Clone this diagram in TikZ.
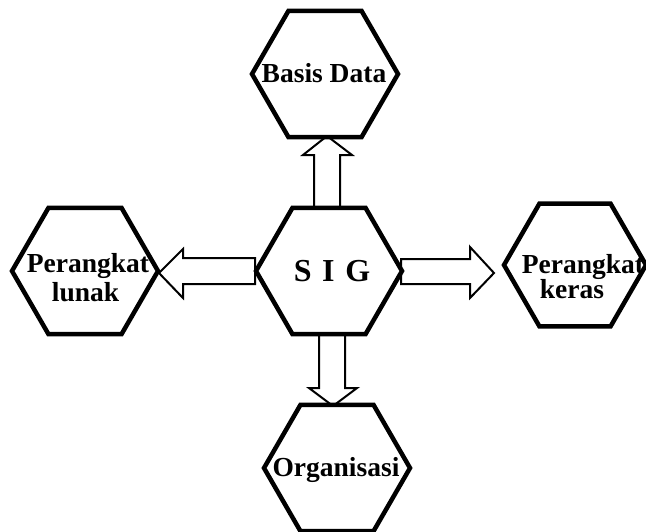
\documentclass[tikz,border=0pt]{standalone}
\usepackage{fontspec}
\setmainfont{Liberation Serif}
\usetikzlibrary{shapes.geometric,backgrounds,calc}
\tikzset{
  hexa/.style={draw=black, fill=white, regular polygon, regular polygon sides=6,
    minimum size=146pt, inner sep=0pt, outer sep=0pt, line width=4.5pt, line join=miter},
  lbl/.style={font=\bfseries\fontsize{27.5}{26}\selectfont, inner sep=0pt, anchor=base, align=center},
  biglbl/.style={font=\bfseries\fontsize{32}{32}\selectfont, inner sep=0pt, anchor=base},
  blockarrow/.style={draw=black, fill=white, line width=2pt, line join=miter}
}
\begin{document}
\begin{tikzpicture}[x=1pt,y=-1pt]
\useasboundingbox (0,0) rectangle (646,531);
% hexagons
\node[hexa] (basis) at (325,74) {};
\node[hexa] (sig) at (329,271) {};
\node[hexa] (lunak) at (85,271) {};
\node[hexa, minimum size=142pt] (keras) at (575,265) {};
\node[hexa] (org) at (337,468) {};
% labels
\node[lbl] (tbasis) at (324,82) {Basis Data};
\node[biglbl] (tsig) at (332,281) {S\,\,I\,\,G};
\node[lbl] (tlunak1) at (88,272) {Perangkat};
\node[lbl] (tlunak2) at (85.5,301) {lunak};
\node[lbl] (tkeras1) at (583,273) {Perangkat};
\node[lbl] (tkeras2) at (572,298) {keras};
\node[lbl] (torg) at (336,476) {Organisasi};
% block arrows behind the hexagons
\begin{pgfonlayer}{background}
\draw[blockarrow] ($(sig.center)+(-15,-56)$) -- ++(0,-60) -- ++(-11,0)
   -- ($(basis.center)+(2,62)$) -- ($(sig.center)+(23,-116)$) -- ++(-12,0) -- ($(sig.center)+(11,-56)$) -- cycle;
\draw[blockarrow] ($(sig.center)+(-74,-13)$) -- ++(-72,0) -- ++(0,-9)
   -- ($(lunak.center)+(74,2)$) -- ($(sig.center)+(-146,27)$) -- ++(0,-14) -- ($(sig.center)+(-74,13)$) -- cycle;
\draw[blockarrow] ($(sig.center)+(72,-12)$) -- ++(69,0) -- ++(0,-12)
   -- ($(keras.center)+(-81,8)$) -- ($(sig.center)+(141,27)$) -- ++(0,-14) -- ($(sig.center)+(72,13)$) -- cycle;
\draw[blockarrow] ($(sig.center)+(-10,56)$) -- ++(0,61) -- ++(-10,0)
   -- ($(org.center)+(-4,-62)$) -- ($(sig.center)+(28,117)$) -- ++(-12,0) -- ($(sig.center)+(16,56)$) -- cycle;
\end{pgfonlayer}
\end{tikzpicture}
\end{document}
